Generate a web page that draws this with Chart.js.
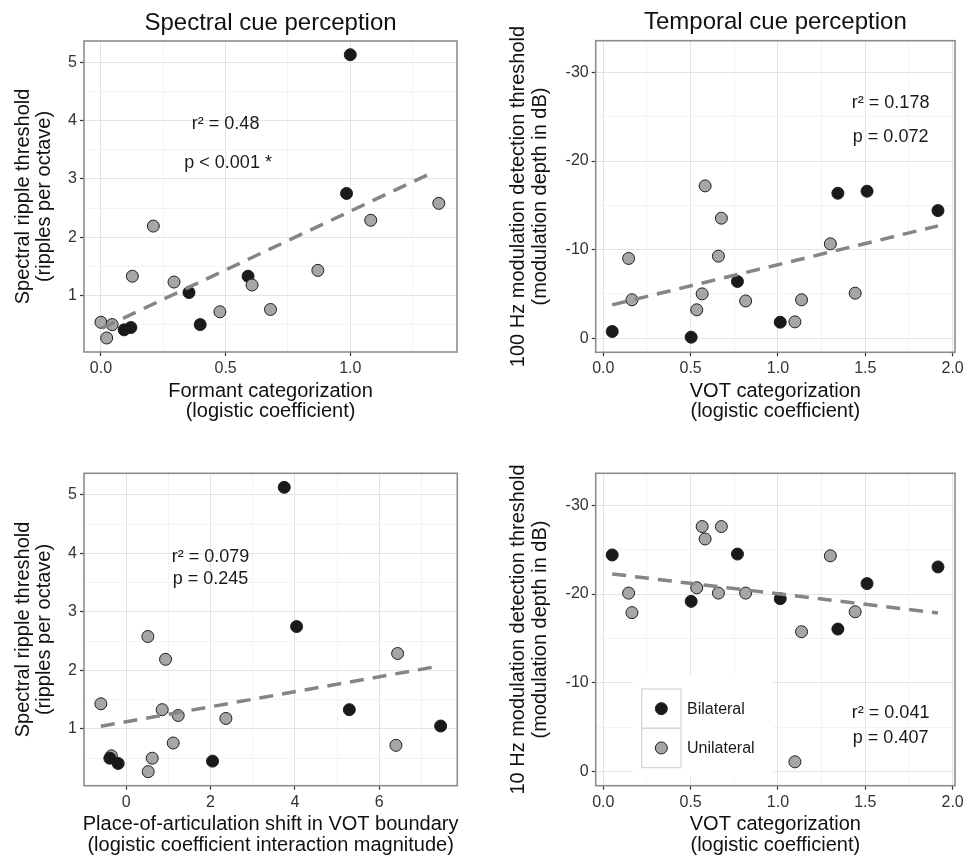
<!DOCTYPE html>
<html><head><meta charset="utf-8">
<script src="https://cdn.jsdelivr.net/npm/chart.js@4.4.1/dist/chart.umd.min.js"></script>
<style>
html,body{margin:0;padding:0;background:#fff;width:967px;height:857px;overflow:hidden}
canvas{position:absolute}
</style></head><body>
<canvas id="c1" style="left:0px;top:0px" width="480" height="430"></canvas>
<canvas id="c2" style="left:480px;top:0px" width="487" height="430"></canvas>
<canvas id="c3" style="left:0px;top:430px" width="480" height="427"></canvas>
<canvas id="c4" style="left:480px;top:430px" width="487" height="427"></canvas>
<script>
// ---------------- DATA ----------------
const groupNames = ['Bilateral', 'Unilateral'];

// Spectral ripple threshold (ripples per octave)
const rippleBilateral  = [5.13, 2.75, 0.41, 0.45, 1.05, 0.50, 1.33];
const rippleUnilateral = [0.54, 0.50, 0.27, 1.33, 2.19, 1.23, 0.72, 1.18, 0.76, 1.43, 2.29, 2.58];
// Formant categorization (logistic coefficient)
const formantBilateral  = [1.00, 0.985, 0.093, 0.12, 0.353, 0.398, 0.59];
const formantUnilateral = [0.0, 0.045, 0.023, 0.126, 0.21, 0.293, 0.477, 0.606, 0.68, 0.87, 1.082, 1.355];
// Place-of-articulation shift in VOT boundary
const placeBilateral  = [3.747, 4.04, -0.19, 2.047, 7.455, -0.387, 5.29];
const placeUnilateral = [-0.35, 0.617, 0.522, 0.854, 0.933, 1.233, 6.395, 2.364, 1.115, -0.6, 6.435, 0.514];

// VOT categorization (logistic coefficient)
const votBilateral  = [0.051, 0.503, 0.768, 1.013, 1.343, 1.51, 1.916];
const votUnilateral = [0.583, 0.676, 0.659, 0.145, 0.164, 0.566, 0.535, 0.815, 1.135, 1.097, 1.30, 1.442];
// 100 Hz modulation detection threshold (dB)
const am100Bilateral  = [-0.75, -0.11, -6.4, -1.8, -16.37, -16.6, -14.41];
const am100Unilateral = [-17.2, -13.55, -9.26, -9.0, -4.33, -5.0, -3.2, -4.2, -4.33, -1.84, -10.65, -5.08];
// 10 Hz modulation detection threshold (dB)
const am10Bilateral  = [-24.4, -19.17, -24.5, -19.47, -16.05, -21.17, -23.05];
const am10Unilateral = [-26.2, -27.6, -20.1, -20.1, -17.9, -27.6, -20.7, -20.1, -15.75, -1.09, -24.3, -18.0];

// Fitted regression lines (end points)
const fitFormantX = [0.005, 1.325], fitFormantY = [0.44, 3.10];
const fitAm100X   = [0.051, 1.916], fitAm100Y   = [-3.76, -12.68];
const fitPlaceX   = [-0.6, 7.28],   fitPlaceY   = [1.046, 2.057];
const fitAm10X    = [0.051, 1.916], fitAm10Y    = [-22.26, -17.86];

// Statistics text
const statsFormant = ['r² = 0.48', 'p < 0.001 *'];
const statsAm100   = ['r² = 0.178', 'p = 0.072'];
const statsPlace   = ['r² = 0.079', 'p = 0.245'];
const statsAm10    = ['r² = 0.041', 'p = 0.407'];

// Tick values / labels
const formantTicks = [0, 0.5, 1.0], formantTickLabels = ['0.0', '0.5', '1.0'], formantMinor = [0.25, 0.75, 1.25];
const rippleTicks = [1, 2, 3, 4, 5], rippleTickLabels = ['1', '2', '3', '4', '5'], rippleMinor = [0.5, 1.5, 2.5, 3.5, 4.5];
const placeTicks = [0, 2, 4, 6], placeTickLabels = ['0', '2', '4', '6'], placeMinor = [-1, 1, 3, 5, 7];
const votTicks = [0, 0.5, 1.0, 1.5, 2.0], votTickLabels = ['0.0', '0.5', '1.0', '1.5', '2.0'], votMinor = [0.25, 0.75, 1.25, 1.75];
const dbTicks = [-30, -20, -10, 0], dbTickLabels = ['-30', '-20', '-10', '0'], dbMinor = [-25, -15, -5];

// ---------------- RENDERING ----------------
const FONT = '"Liberation Sans", Arial, Helvetica, sans-serif';
const zip = (xs, ys) => xs.map((x, i) => ({x: x, y: ys[i]}));
const COL_BI = '#1a1a1a', COL_UNI = '#a6a6a6', COL_EDGE = '#1e1e1e';

const panelPlugin = {
  id: 'panelDecor',
  afterDraw(chart) {
    const cfg = chart.options.plugins.panelDecor;
    const ctx = chart.ctx, ca = chart.chartArea;
    const xs = chart.scales.x, ys = chart.scales.y;
    ctx.save();
    // legend
    if (cfg.legend) {
      const L = cfg.legend;
      ctx.fillStyle = '#ffffff';
      ctx.fillRect(L.bg[0], L.bg[1], L.bg[2], L.bg[3]);
      L.items.forEach((it, i) => {
        const bx = L.x, by = L.y + i * L.size;
        ctx.strokeStyle = '#d4d4d4'; ctx.lineWidth = 1.2;
        ctx.strokeRect(bx, by, L.size, L.size);
        ctx.beginPath();
        ctx.arc(bx + L.size / 2, by + L.size / 2, 6, 0, Math.PI * 2);
        ctx.fillStyle = it.fill; ctx.fill();
        ctx.strokeStyle = COL_EDGE; ctx.lineWidth = 1; ctx.stroke();
        ctx.fillStyle = '#1a1a1a';
        ctx.font = '16px ' + FONT;
        ctx.textAlign = 'left'; ctx.textBaseline = 'middle';
        ctx.fillText(it.label, bx + L.size + 6, by + L.size / 2 + 1);
      });
    }
    // stats annotations
    ctx.fillStyle = '#1a1a1a';
    ctx.font = '18px ' + FONT;
    ctx.textAlign = 'center'; ctx.textBaseline = 'alphabetic';
    cfg.stats.forEach((s) => {
      ctx.fillText(s.text, xs.getPixelForValue(s.x), ys.getPixelForValue(s.y));
    });
    // panel border
    ctx.strokeStyle = '#8c8c8c'; ctx.lineWidth = 1.6;
    ctx.strokeRect(ca.left, ca.top, ca.right - ca.left, ca.bottom - ca.top);
    // title
    ctx.fillStyle = '#111';
    if (cfg.title) {
      ctx.font = '24px ' + FONT;
      ctx.textAlign = 'center'; ctx.textBaseline = 'alphabetic';
      ctx.fillText(cfg.title, (ca.left + ca.right) / 2, cfg.titleBase);
    }
    // x title
    ctx.font = '20px ' + FONT;
    ctx.textAlign = 'center'; ctx.textBaseline = 'alphabetic';
    const cx = (ca.left + ca.right) / 2;
    cfg.xTitle.forEach((t, i) => ctx.fillText(t, cx, ca.bottom + 44.5 + i * 20.5));
    // y title (rotated)
    const cy = (ca.top + ca.bottom) / 2;
    cfg.yTitle.forEach((t, i) => {
      ctx.save();
      ctx.translate(cfg.yTitleBase[i], cy);
      ctx.rotate(-Math.PI / 2);
      ctx.fillText(t, 0, 0);
      ctx.restore();
    });
    ctx.restore();
  }
};

function axisOpts(range, major, labels, minor, reverse, fitFn) {
  const all = major.concat(minor).sort((a, b) => a - b);
  const isMajor = (v) => major.some((m) => Math.abs(m - v) < 1e-9);
  return {
    type: 'linear', min: range[0], max: range[1], reverse: !!reverse,
    afterBuildTicks: (s) => { s.ticks = all.map((v) => ({value: v})); },
    afterFit: fitFn,
    ticks: {
      autoSkip: false, maxRotation: 0, minRotation: 0, padding: 3,
      color: '#333333', font: {family: FONT, size: 16},
      callback: (v) => { const i = major.findIndex((m) => Math.abs(m - v) < 1e-9); return i >= 0 ? labels[i] : ''; }
    },
    grid: {
      color: (c) => (c.tick && isMajor(c.tick.value)) ? '#e4e4e4' : '#f3f3f3',
      lineWidth: 1, drawTicks: true, tickLength: 4,
      tickColor: (c) => (c.tick && isMajor(c.tick.value)) ? '#333333' : 'rgba(0,0,0,0)',
      tickWidth: 1.2
    },
    border: {display: false}
  };
}

function makePanel(id, p) {
  const canvas = document.getElementById(id);
  const W = canvas.width, H = canvas.height;
  const a = p.area;
  new Chart(canvas.getContext('2d'), {
    type: 'scatter',
    data: {
      datasets: [
        {type: 'line', label: 'fit', data: zip(p.fit[0], p.fit[1]), borderColor: '#858585', borderWidth: 3.5,
         borderDash: [14, 9], pointRadius: 0, fill: false, showLine: true, order: 0},
        {label: groupNames[0], data: zip(p.bi[0], p.bi[1]), backgroundColor: COL_BI, borderColor: COL_EDGE,
         borderWidth: 1, pointRadius: 6, order: p.grayOnTop ? 2 : 1},
        {label: groupNames[1], data: zip(p.uni[0], p.uni[1]), backgroundColor: COL_UNI, borderColor: COL_EDGE,
         borderWidth: 1, pointRadius: 6, order: p.grayOnTop ? 1 : 2}
      ]
    },
    options: {
      responsive: false, animation: false, events: [],
      layout: {padding: {top: a.t, right: W - a.r, left: 0, bottom: 0}},
      plugins: {legend: {display: false}, tooltip: {enabled: false}, panelDecor: p.decor},
      scales: {
        x: axisOpts(p.xRange, p.xt[0], p.xt[1], p.xt[2], false, (s) => { s.height = H - a.b; }),
        y: axisOpts(p.yRange, p.yt[0], p.yt[1], p.yt[2], p.reverse, (s) => { s.width = a.l; })
      }
    },
    plugins: [panelPlugin]
  });
}

makePanel('c1', {
  area: {l: 84, t: 41, r: 457, b: 352},
  xRange: [-0.068, 1.428], yRange: [0.03, 5.365],
  xt: [formantTicks, formantTickLabels, formantMinor], yt: [rippleTicks, rippleTickLabels, rippleMinor],
  bi: [formantBilateral, rippleBilateral], uni: [formantUnilateral, rippleUnilateral],
  fit: [fitFormantX, fitFormantY], grayOnTop: true,
  decor: {
    title: 'Spectral cue perception', titleBase: 29.5,
    xTitle: ['Formant categorization', '(logistic coefficient)'],
    yTitle: ['Spectral ripple threshold', '(ripples per octave)'], yTitleBase: [28.5, 50],
    stats: [{text: statsFormant[0], x: 0.5, y: 3.853}, {text: statsFormant[1], x: 0.51, y: 3.184}]
  }
});

makePanel('c2', {
  area: {l: 115.7, t: 40.7, r: 475, b: 352.3},
  xRange: [-0.0435, 2.0135], yRange: [-33.6, 1.6], reverse: true,
  xt: [votTicks, votTickLabels, votMinor], yt: [dbTicks, dbTickLabels, dbMinor],
  bi: [votBilateral, am100Bilateral], uni: [votUnilateral, am100Unilateral],
  fit: [fitAm100X, fitAm100Y], grayOnTop: true,
  decor: {
    title: 'Temporal cue perception', titleBase: 28.5,
    xTitle: ['VOT categorization', '(logistic coefficient)'],
    yTitle: ['100 Hz modulation detection threshold', '(modulation depth in dB)'], yTitleBase: [44, 66],
    stats: [{text: statsAm100[0], x: 1.645, y: -25.97}, {text: statsAm100[1], x: 1.645, y: -22.2}]
  }
});

makePanel('c3', {
  area: {l: 84, t: 43.3, r: 457.3, b: 355.7},
  xRange: [-1.0, 7.85], yRange: [0.03, 5.37],
  xt: [placeTicks, placeTickLabels, placeMinor], yt: [rippleTicks, rippleTickLabels, rippleMinor],
  bi: [placeBilateral, rippleBilateral], uni: [placeUnilateral, rippleUnilateral],
  fit: [fitPlaceX, fitPlaceY], grayOnTop: false,
  decor: {
    title: null,
    xTitle: ['Place-of-articulation shift in VOT boundary', '(logistic coefficient interaction magnitude)'],
    yTitle: ['Spectral ripple threshold', '(ripples per octave)'], yTitleBase: [28.5, 50],
    stats: [{text: statsPlace[0], x: 2.0, y: 3.853}, {text: statsPlace[1], x: 2.0, y: 3.48}]
  }
});

makePanel('c4', {
  area: {l: 115.7, t: 43.3, r: 475, b: 355.7},
  xRange: [-0.0435, 2.0135], yRange: [-33.6, 1.6], reverse: true,
  xt: [votTicks, votTickLabels, votMinor], yt: [dbTicks, dbTickLabels, dbMinor],
  bi: [votBilateral, am10Bilateral], uni: [votUnilateral, am10Unilateral],
  fit: [fitAm10X, fitAm10Y], grayOnTop: true,
  decor: {
    title: null,
    xTitle: ['VOT categorization', '(logistic coefficient)'],
    yTitle: ['10 Hz modulation detection threshold', '(modulation depth in dB)'], yTitleBase: [44, 66],
    stats: [{text: statsAm10[0], x: 1.645, y: -5.98}, {text: statsAm10[1], x: 1.645, y: -3.16}],
    legend: {
      bg: [153, 245, 140, 102], x: 161.7, y: 259, size: 39.3,
      items: [{label: groupNames[0], fill: COL_BI}, {label: groupNames[1], fill: COL_UNI}]
    }
  }
});
</script>
</body></html>
